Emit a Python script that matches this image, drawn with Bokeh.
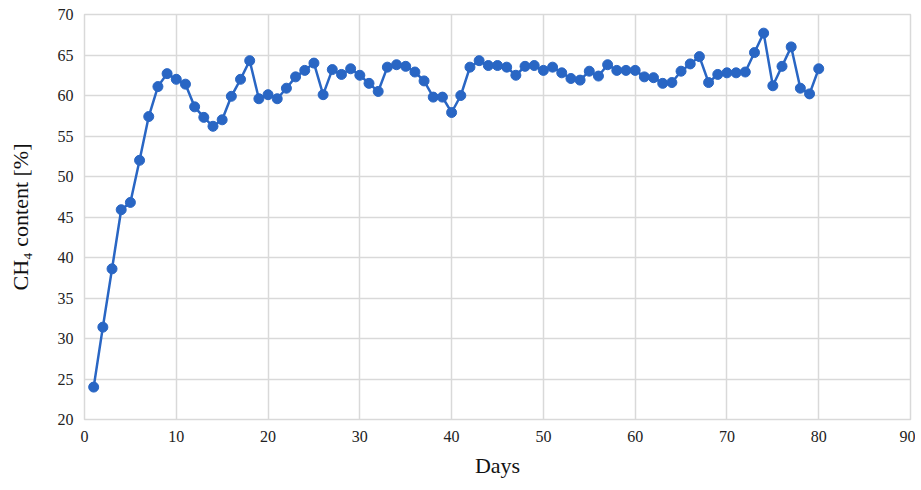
from bokeh.plotting import figure
from bokeh.models import Range1d, FixedTicker
from bokeh.embed import file_html
from bokeh.resources import INLINE

days = list(range(1, 81))
ch4 = [24.0, 31.4, 38.6, 45.9, 46.8, 52.0, 57.4, 61.1, 62.7, 62.0,
       61.4, 58.6, 57.3, 56.2, 57.0, 59.9, 62.0, 64.3, 59.6, 60.1,
       59.6, 60.9, 62.3, 63.1, 64.0, 60.1, 63.2, 62.6, 63.3, 62.5,
       61.5, 60.5, 63.5, 63.8, 63.6, 62.9, 61.8, 59.8, 59.8, 57.9,
       60.0, 63.5, 64.3, 63.7, 63.7, 63.5, 62.5, 63.6, 63.7, 63.1,
       63.5, 62.8, 62.1, 61.9, 63.0, 62.4, 63.8, 63.1, 63.1, 63.1,
       62.3, 62.2, 61.5, 61.6, 63.0, 63.9, 64.8, 61.6, 62.6, 62.8,
       62.8, 62.9, 65.3, 67.7, 61.2, 63.6, 66.0, 60.9, 60.2, 63.3]
x_ticks = [0, 10, 20, 30, 40, 50, 60, 70, 80, 90]
y_ticks = [20, 25, 30, 35, 40, 45, 50, 55, 60, 65, 70]

FONT = "Liberation Serif"
BLUE = "#2966C4"
GRID = "#d9d9d9"

p = figure(width=915, height=482, output_backend="svg", toolbar_location=None,
           x_range=Range1d(0, 90), y_range=Range1d(20, 70),
           min_border_left=84, min_border_right=5, min_border_top=14, min_border_bottom=63)

p.line(days, ch4, line_color=BLUE, line_width=2.5)
p.scatter(days, ch4, size=10, fill_color=BLUE, line_color=BLUE)

p.xaxis.ticker = FixedTicker(ticks=x_ticks)
p.yaxis.ticker = FixedTicker(ticks=y_ticks)
for ax in (p.xaxis[0], p.yaxis[0]):
    ax.axis_line_color = None
    ax.major_tick_line_color = None
    ax.minor_tick_line_color = None
    ax.major_tick_out = 0
    ax.major_tick_in = 0
    ax.major_label_text_font = FONT
    ax.major_label_text_font_size = "16px"
    ax.major_label_text_color = "#222222"
    ax.axis_label_text_font = FONT
    ax.axis_label_text_font_style = "normal"
    ax.axis_label_text_font_size = "22px"
    ax.axis_label_text_color = "#111111"
    ax.major_label_standoff = 11

p.xaxis.axis_label = "Days"
p.yaxis.axis_label = "CH\u2084 content [%]"
p.xaxis.axis_label_standoff = 8
p.yaxis.axis_label_standoff = 22

p.xgrid.ticker = FixedTicker(ticks=x_ticks)
p.ygrid.ticker = FixedTicker(ticks=y_ticks)
p.grid.grid_line_color = GRID
p.grid.grid_line_width = 1.5
p.outline_line_color = GRID
p.outline_line_width = 1.5

open("out.html", "w").write(file_html(p, INLINE))
